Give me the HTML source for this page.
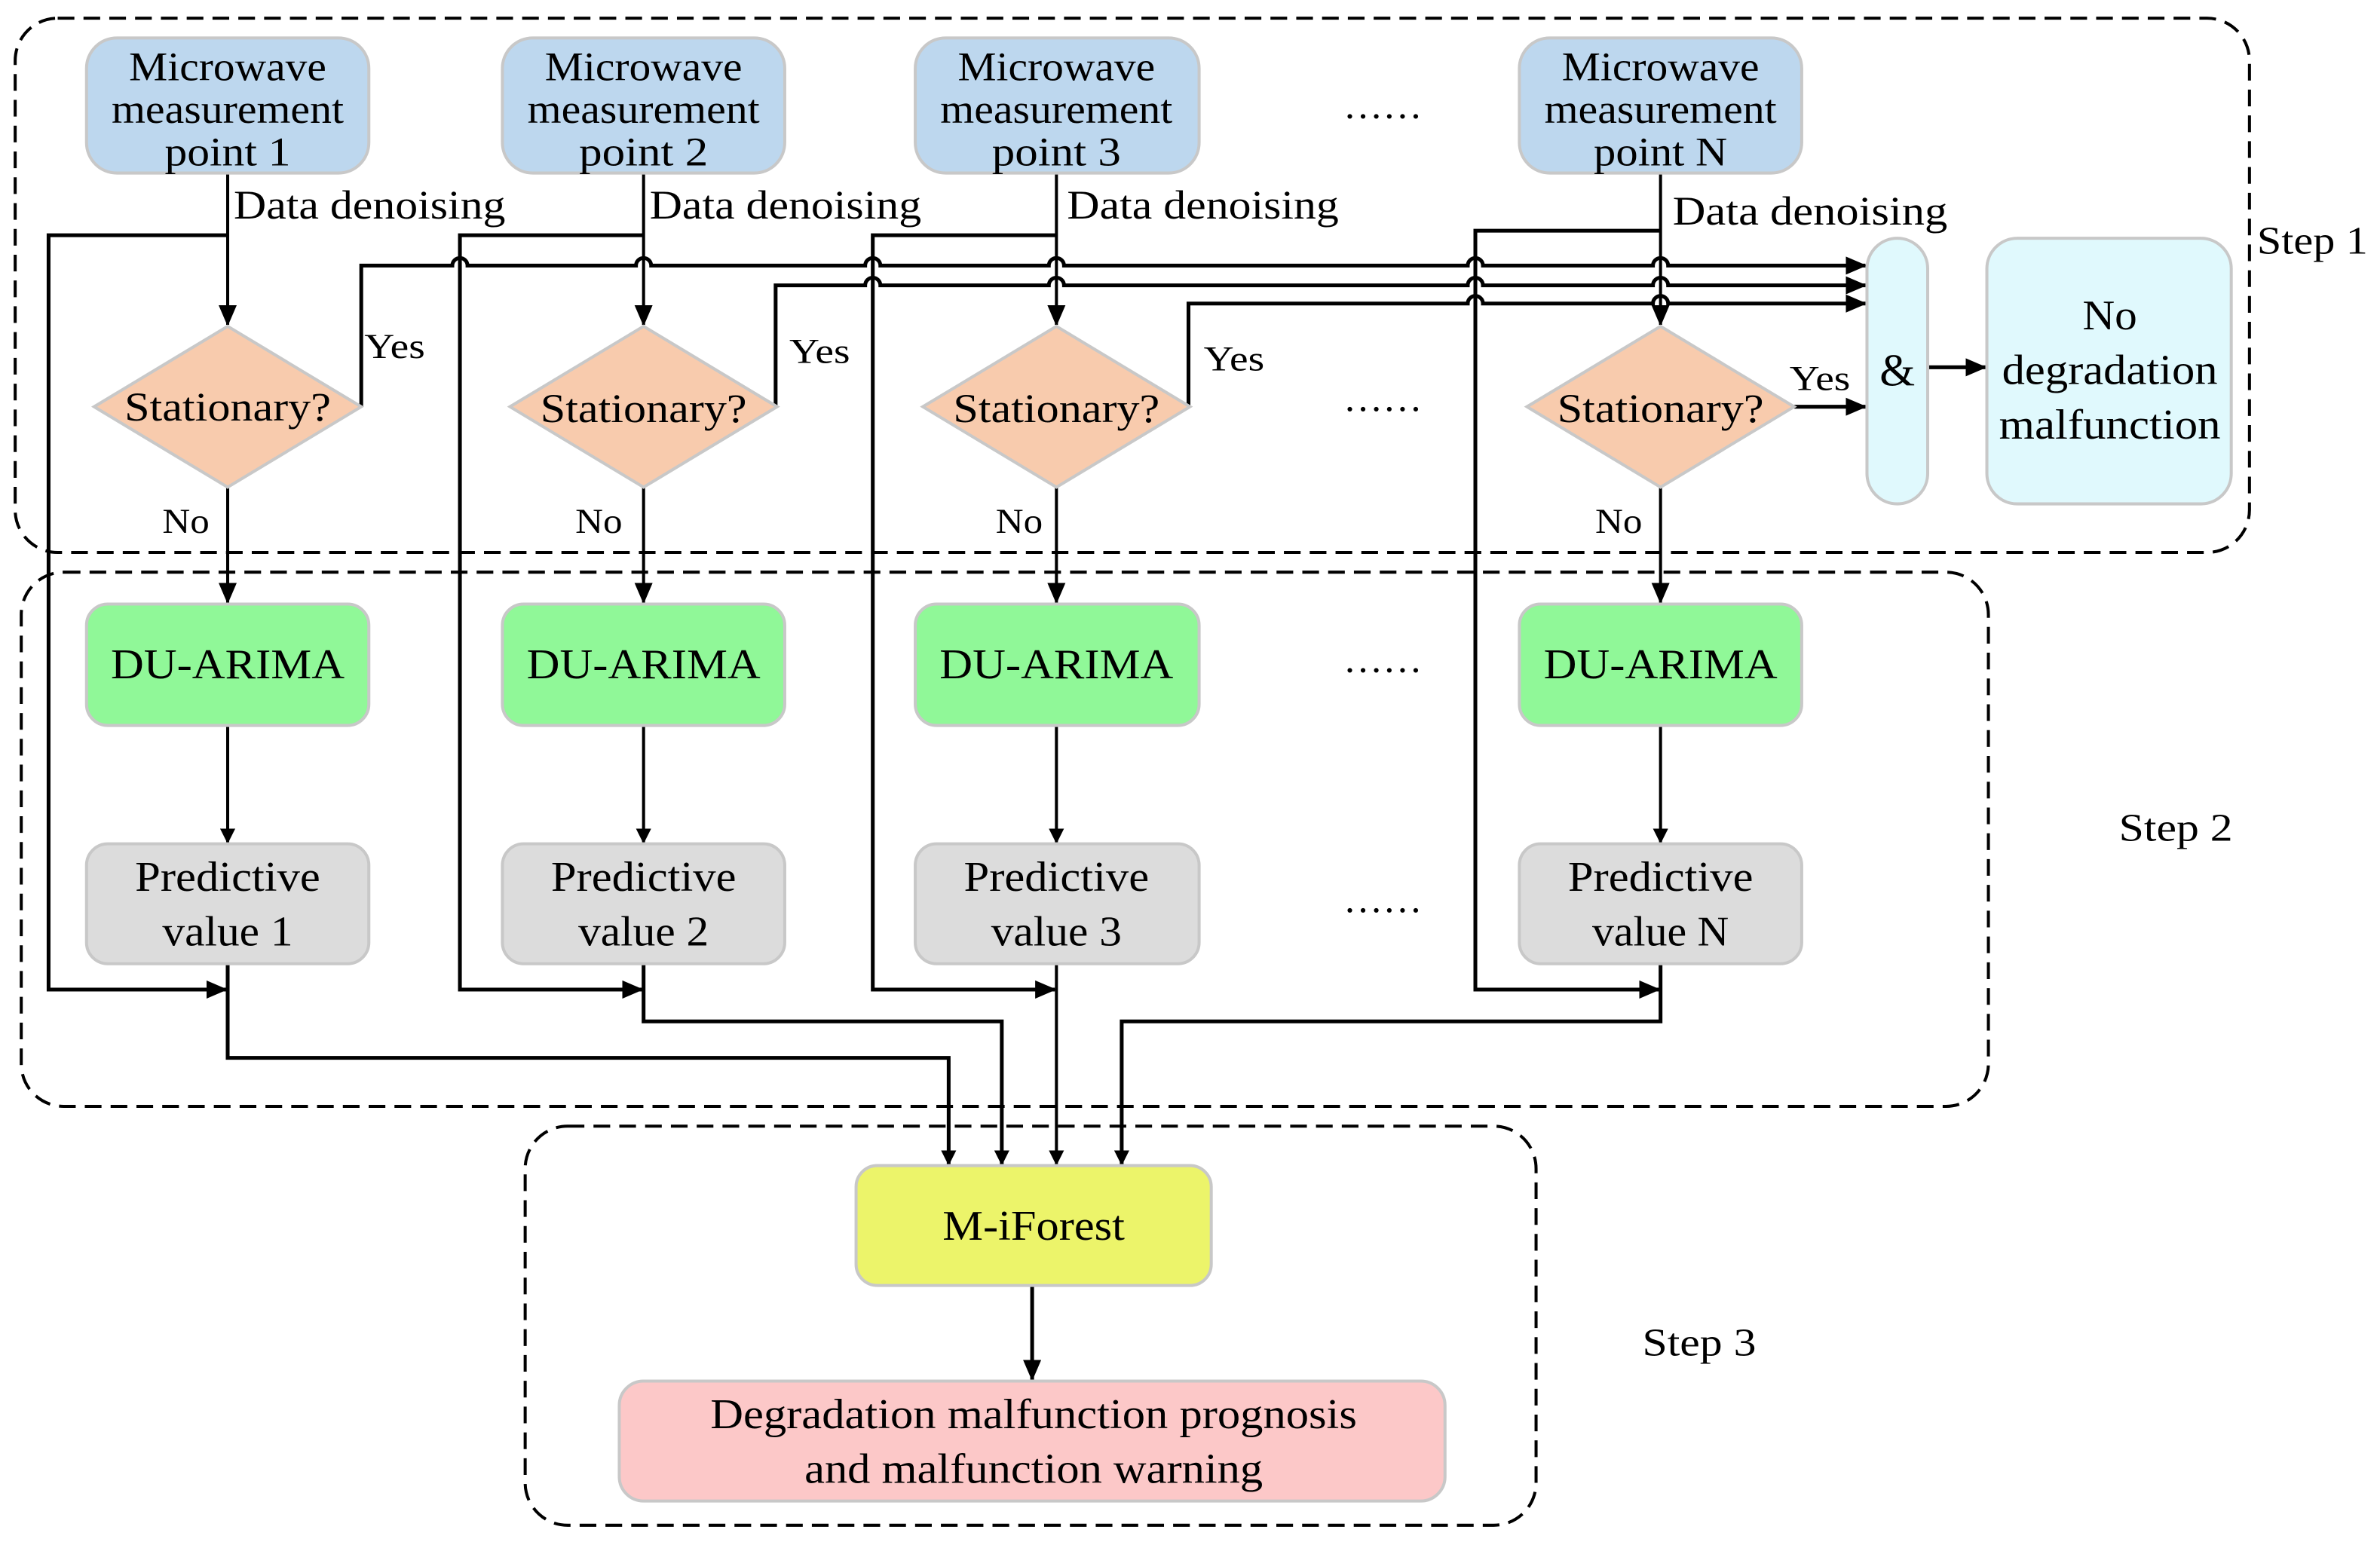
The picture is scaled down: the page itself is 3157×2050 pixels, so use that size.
<!DOCTYPE html>
<html><head><meta charset="utf-8"><style>
html,body{margin:0;padding:0;background:#fff;}
svg{display:block;}
text{font-family:"Liberation Serif","Times New Roman","DejaVu Serif",serif;fill:#000;}
</style></head><body>
<svg width="3157" height="2050" viewBox="0 0 1568 1018" preserveAspectRatio="none" xmlns="http://www.w3.org/2000/svg" font-family="Liberation Serif, Times New Roman, serif">
<defs>
<marker id="ah" markerWidth="10" markerHeight="10" refX="9" refY="5" orient="auto" markerUnits="userSpaceOnUse"><path d="M0,0 L10,5 L0,10 Z" fill="#000"/></marker>
<marker id="ahs" markerWidth="14" markerHeight="12" refX="13" refY="6" orient="auto" markerUnits="userSpaceOnUse"><path d="M0,0 L14,6 L0,12 Z" fill="#000"/></marker>
</defs>
<g fill="none" stroke="#000" stroke-width="2" stroke-dasharray="11,6">
<rect x="10" y="12" width="1472" height="352" rx="28"/>
<rect x="14" y="377" width="1296" height="352" rx="28"/>
<rect x="346" y="742" width="666" height="263" rx="28"/>
</g>
<text x="1487" y="167" font-size="26" textLength="73" lengthAdjust="spacingAndGlyphs">Step 1</text>
<text x="1396" y="554" font-size="26" textLength="75" lengthAdjust="spacingAndGlyphs">Step 2</text>
<text x="1082" y="893" font-size="26" textLength="75" lengthAdjust="spacingAndGlyphs">Step 3</text>

<g fill="none" stroke="#000" stroke-width="2">
<line x1="150" y1="114" x2="150" y2="214" marker-end="url(#ahs)"/>
<line x1="424" y1="114" x2="424" y2="214" marker-end="url(#ahs)"/>
<line x1="696" y1="114" x2="696" y2="214" marker-end="url(#ahs)"/>
<line x1="1094" y1="114" x2="1094" y2="214" marker-end="url(#ahs)"/>
<line x1="150" y1="321" x2="150" y2="397" marker-end="url(#ahs)"/>
<line x1="424" y1="321" x2="424" y2="397" marker-end="url(#ahs)"/>
<line x1="696" y1="321" x2="696" y2="397" marker-end="url(#ahs)"/>
<line x1="1094" y1="321" x2="1094" y2="397" marker-end="url(#ahs)"/>
<line x1="150" y1="478" x2="150" y2="555" marker-end="url(#ah)"/>
<line x1="424" y1="478" x2="424" y2="555" marker-end="url(#ah)"/>
<line x1="696" y1="478" x2="696" y2="555" marker-end="url(#ah)"/>
<line x1="1094" y1="478" x2="1094" y2="555" marker-end="url(#ah)"/>
<path d="M150,155 L32,155 L32,652 L149,652" stroke-width="2.5" marker-end="url(#ahs)"/>
<path d="M424,155 L303,155 L303,652 L423,652" stroke-width="2.5" marker-end="url(#ahs)"/>
<path d="M696,155 L575,155 L575,652 L695,652" stroke-width="2.5" marker-end="url(#ahs)"/>
<path d="M1094,152 L972,152 L972,652 L1093,652" stroke-width="2.5" marker-end="url(#ahs)"/>
<path stroke-width="2.5" d="M238,268 L238,175 L298,175 A5,5 0 0 1 308,175 L419,175 A5,5 0 0 1 429,175 L570,175 A5,5 0 0 1 580,175 L691,175 A5,5 0 0 1 701,175 L967,175 A5,5 0 0 1 977,175 L1089,175 A5,5 0 0 1 1099,175 L1229,175" marker-end="url(#ahs)"/>
<path stroke-width="2.5" d="M511,268 L511,188 L570,188 A5,5 0 0 1 580,188 L691,188 A5,5 0 0 1 701,188 L967,188 A5,5 0 0 1 977,188 L1089,188 A5,5 0 0 1 1099,188 L1229,188" marker-end="url(#ahs)"/>
<path stroke-width="2.5" d="M783,268 L783,200 L967,200 A5,5 0 0 1 977,200 L1089,200 A5,5 0 0 1 1099,200 L1229,200" marker-end="url(#ahs)"/>
<line x1="1182" y1="268" x2="1229" y2="268" stroke-width="2.5" marker-end="url(#ahs)"/>
<line x1="1270" y1="242" x2="1308" y2="242" stroke-width="2.5" marker-end="url(#ahs)"/>
<path d="M150,635 L150,697 L625,697 L625,767" stroke-width="2.5" marker-end="url(#ah)"/>
<path d="M424,635 L424,673 L660,673 L660,767" stroke-width="2.5" marker-end="url(#ah)"/>
<path d="M696,635 L696,767" marker-end="url(#ah)"/>
<path d="M1094,635 L1094,673 L739,673 L739,767" stroke-width="2.5" marker-end="url(#ah)"/>
<line x1="680" y1="847" x2="680" y2="909" stroke-width="2.5" marker-end="url(#ahs)"/>
</g>

<g stroke="#c8c8c8" stroke-width="2">
<rect x="57" y="25" width="186" height="89" rx="20" fill="#bdd7ee"/>
<rect x="331" y="25" width="186" height="89" rx="20" fill="#bdd7ee"/>
<rect x="603" y="25" width="187" height="89" rx="20" fill="#bdd7ee"/>
<rect x="1001" y="25" width="186" height="89" rx="20" fill="#bdd7ee"/>
<polygon points="150,215 238,268 150,321 62,268" fill="#f8cbad"/>
<polygon points="424,215 512,268 424,321 336,268" fill="#f8cbad"/>
<polygon points="696,215 784,268 696,321 608,268" fill="#f8cbad"/>
<polygon points="1094,215 1182,268 1094,321 1006,268" fill="#f8cbad"/>
<rect x="1230" y="157" width="40" height="175" rx="20" fill="#e0f9fd"/>
<rect x="1309" y="157" width="161" height="175" rx="20" fill="#e0f9fd"/>
<rect x="57" y="398" width="186" height="80" rx="14" fill="#90f898"/>
<rect x="331" y="398" width="186" height="80" rx="14" fill="#90f898"/>
<rect x="603" y="398" width="187" height="80" rx="14" fill="#90f898"/>
<rect x="1001" y="398" width="186" height="80" rx="14" fill="#90f898"/>
<rect x="57" y="556" width="186" height="79" rx="14" fill="#dcdcdc"/>
<rect x="331" y="556" width="186" height="79" rx="14" fill="#dcdcdc"/>
<rect x="603" y="556" width="187" height="79" rx="14" fill="#dcdcdc"/>
<rect x="1001" y="556" width="186" height="79" rx="14" fill="#dcdcdc"/>
<rect x="564" y="768" width="234" height="79" rx="14" fill="#ecf46a"/>
<rect x="408" y="910" width="544" height="79" rx="16" fill="#fcc8c8"/>
</g>

<g font-size="27" text-anchor="middle" lengthAdjust="spacingAndGlyphs">
<text x="150" y="53" textLength="130" lengthAdjust="spacingAndGlyphs">Microwave</text><text x="150" y="81" textLength="153" lengthAdjust="spacingAndGlyphs">measurement</text><text x="150" y="109" textLength="83" lengthAdjust="spacingAndGlyphs">point 1</text>
<text x="424" y="53" textLength="130" lengthAdjust="spacingAndGlyphs">Microwave</text><text x="424" y="81" textLength="153" lengthAdjust="spacingAndGlyphs">measurement</text><text x="424" y="109" textLength="85" lengthAdjust="spacingAndGlyphs">point 2</text>
<text x="696" y="53" textLength="130" lengthAdjust="spacingAndGlyphs">Microwave</text><text x="696" y="81" textLength="153" lengthAdjust="spacingAndGlyphs">measurement</text><text x="696" y="109" textLength="85" lengthAdjust="spacingAndGlyphs">point 3</text>
<text x="1094" y="53" textLength="130" lengthAdjust="spacingAndGlyphs">Microwave</text><text x="1094" y="81" textLength="153" lengthAdjust="spacingAndGlyphs">measurement</text><text x="1094" y="109" textLength="88" lengthAdjust="spacingAndGlyphs">point N</text>
<text x="150" y="277" textLength="136" lengthAdjust="spacingAndGlyphs">Stationary?</text>
<text x="424" y="278" textLength="136" lengthAdjust="spacingAndGlyphs">Stationary?</text>
<text x="696" y="278" textLength="136" lengthAdjust="spacingAndGlyphs">Stationary?</text>
<text x="1094" y="278" textLength="136" lengthAdjust="spacingAndGlyphs">Stationary?</text>
<text x="150" y="447" font-size="28" textLength="154" lengthAdjust="spacingAndGlyphs">DU-ARIMA</text>
<text x="424" y="447" font-size="28" textLength="154" lengthAdjust="spacingAndGlyphs">DU-ARIMA</text>
<text x="696" y="447" font-size="28" textLength="154" lengthAdjust="spacingAndGlyphs">DU-ARIMA</text>
<text x="1094" y="447" font-size="28" textLength="154" lengthAdjust="spacingAndGlyphs">DU-ARIMA</text>
<text x="150" y="587" font-size="28" textLength="122" lengthAdjust="spacingAndGlyphs">Predictive</text><text x="150" y="623" font-size="28" textLength="86" lengthAdjust="spacingAndGlyphs">value 1</text>
<text x="424" y="587" font-size="28" textLength="122" lengthAdjust="spacingAndGlyphs">Predictive</text><text x="424" y="623" font-size="28" textLength="86" lengthAdjust="spacingAndGlyphs">value 2</text>
<text x="696" y="587" font-size="28" textLength="122" lengthAdjust="spacingAndGlyphs">Predictive</text><text x="696" y="623" font-size="28" textLength="86" lengthAdjust="spacingAndGlyphs">value 3</text>
<text x="1094" y="587" font-size="28" textLength="122" lengthAdjust="spacingAndGlyphs">Predictive</text><text x="1094" y="623" font-size="28" textLength="90" lengthAdjust="spacingAndGlyphs">value N</text>
<text x="1250" y="254" font-size="30">&amp;</text>
<text x="1390" y="217" font-size="28" textLength="36" lengthAdjust="spacingAndGlyphs">No</text><text x="1390" y="253" font-size="28" textLength="142" lengthAdjust="spacingAndGlyphs">degradation</text><text x="1390" y="289" font-size="28" textLength="146" lengthAdjust="spacingAndGlyphs">malfunction</text>
<text x="681" y="817" font-size="28" textLength="120" lengthAdjust="spacingAndGlyphs">M-iForest</text>
<text x="681" y="941" font-size="28" textLength="426" lengthAdjust="spacingAndGlyphs">Degradation malfunction prognosis</text>
<text x="681" y="977" font-size="28" textLength="302" lengthAdjust="spacingAndGlyphs">and malfunction warning</text>
<text x="911" y="78" font-size="26">……</text>
<text x="911" y="271" font-size="26">……</text>
<text x="911" y="443" font-size="26">……</text>
<text x="911" y="601" font-size="26">……</text>
</g>
<g font-size="27">
<text x="154" y="144" textLength="179" lengthAdjust="spacingAndGlyphs">Data denoising</text>
<text x="428" y="144" textLength="179" lengthAdjust="spacingAndGlyphs">Data denoising</text>
<text x="703" y="144" textLength="179" lengthAdjust="spacingAndGlyphs">Data denoising</text>
<text x="1102" y="148" textLength="181" lengthAdjust="spacingAndGlyphs">Data denoising</text>
</g>
<g font-size="23">
<text x="240" y="236" textLength="40" lengthAdjust="spacingAndGlyphs">Yes</text>
<text x="520" y="239" textLength="40" lengthAdjust="spacingAndGlyphs">Yes</text>
<text x="793" y="244" textLength="40" lengthAdjust="spacingAndGlyphs">Yes</text>
<text x="1179" y="257" textLength="40" lengthAdjust="spacingAndGlyphs">Yes</text>
<text x="107" y="351" textLength="31" lengthAdjust="spacingAndGlyphs">No</text>
<text x="379" y="351" textLength="31" lengthAdjust="spacingAndGlyphs">No</text>
<text x="656" y="351" textLength="31" lengthAdjust="spacingAndGlyphs">No</text>
<text x="1051" y="351" textLength="31" lengthAdjust="spacingAndGlyphs">No</text>
</g>
</svg>
</body></html>
